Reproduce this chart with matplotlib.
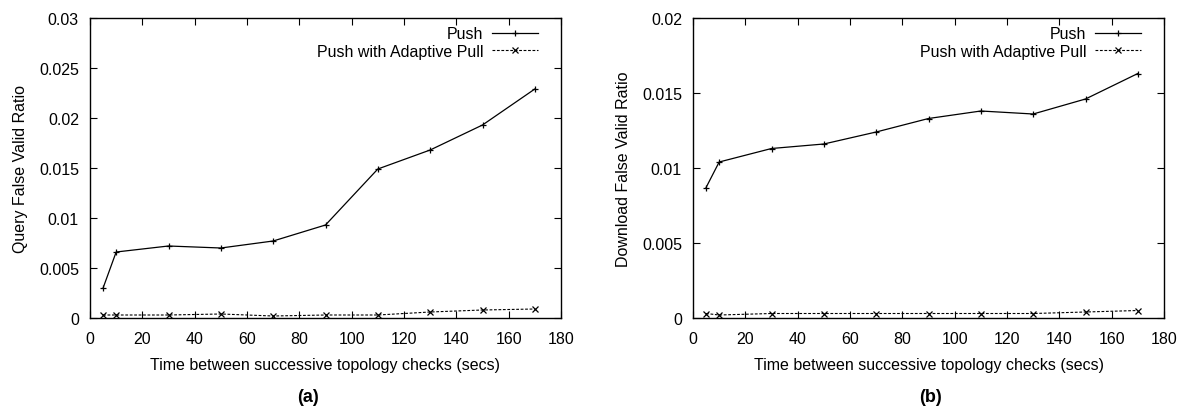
import numpy as np
import matplotlib.pyplot as plt

plt.rcParams["font.family"] = ["Liberation Sans", "DejaVu Sans"]

# Time between checks (secs)
checks = [5, 10, 30, 50, 70, 90, 110, 130, 150, 170]

query_push = [0.0030, 0.0066, 0.0072, 0.0070, 0.0077, 0.0093, 0.0149, 0.0168, 0.0193, 0.0229]
query_adaptive = [0.0003, 0.0003, 0.0003, 0.0004, 0.0002, 0.0003, 0.0003, 0.0006, 0.0008, 0.0009]

download_push = [0.0087, 0.0104, 0.0113, 0.0116, 0.0124, 0.0133, 0.0138, 0.0136, 0.0146, 0.0163]
download_adaptive = [0.0003, 0.0002, 0.0003, 0.0003, 0.0003, 0.0003, 0.0003, 0.0003, 0.0004, 0.0005]

FS = 11.5
W, H = 1182, 410


def panel(ax, push, adaptive, ylabel, ymax, ystep):
    ax.plot(checks, push, "k-", marker="+", markersize=5, mew=0.9, lw=0.9, label="Push")
    ax.plot(checks, adaptive, "k--", marker="x", markersize=4, mew=0.9, lw=0.8,
            dashes=(2.5, 1.5), label="Push with Adaptive Pull")
    ax.set_xlim(0, 180)
    ax.set_ylim(0, ymax)
    ax.set_xticks(np.arange(0, 181, 20))
    yt = np.arange(0, ymax + 1e-9, ystep)
    ax.set_yticks(yt)
    ax.set_yticklabels([f"{v:g}" for v in yt])
    ax.tick_params(direction="in", top=True, right=True, labelsize=FS,
                   length=5, width=0.8)
    ax.tick_params(axis="x", pad=9)
    ax.tick_params(axis="y", pad=8)
    for s in ax.spines.values():
        s.set_linewidth(1.0)
    ax.set_xlabel("Time between successive topology checks (secs)", fontsize=FS, labelpad=8)
    ax.set_ylabel(ylabel, fontsize=FS, labelpad=8)
    ax.legend(loc="upper right", frameon=False, markerfirst=False, fontsize=FS,
              handlelength=2.9, handletextpad=0.55, borderaxespad=0, borderpad=0.3,
              labelspacing=0.15, bbox_to_anchor=(0.962, 0.988))


fig = plt.figure(figsize=(W / 100, H / 100), dpi=100)
ax1 = fig.add_axes([90 / W, 1 - 319 / H, (561 - 90) / W, 300 / H])
ax2 = fig.add_axes([693 / W, 1 - 319 / H, (1164 - 693) / W, 300 / H])

panel(ax1, query_push, query_adaptive, "Query False Valid Ratio", 0.03, 0.005)
panel(ax2, download_push, download_adaptive, "Download False Valid Ratio", 0.02, 0.005)

fig.text(308 / W, 1 - 398 / H, "(a)", ha="center", va="center", fontsize=FS + 1.5,
         fontweight="bold")
fig.text(930 / W, 1 - 398 / H, "(b)", ha="center", va="center", fontsize=FS + 1.5,
         fontweight="bold")

fig.savefig("out.png", dpi=100)
